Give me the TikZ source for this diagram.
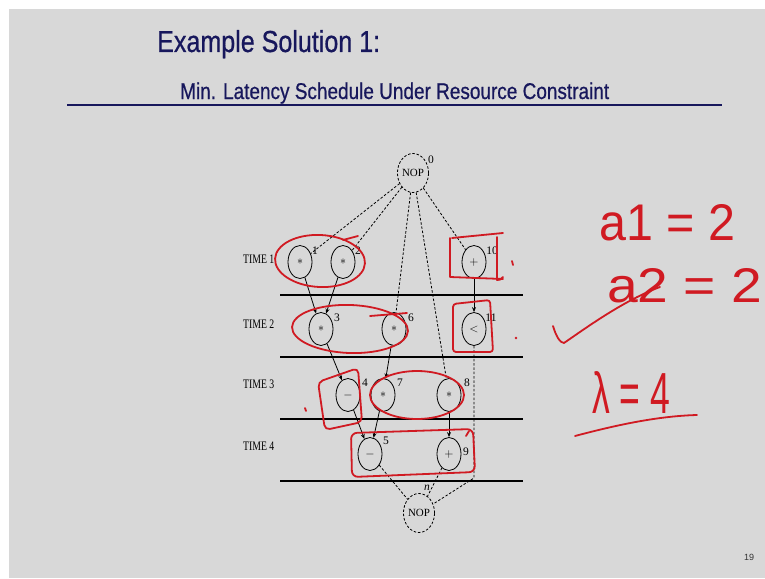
\documentclass[tikz,border=0pt]{standalone}
\usepackage{fontspec}
\setmainfont{Liberation Serif}
\newfontfamily\titlefont{Liberation Sans}
\newfontfamily\headfont[FakeBold=0.7]{Liberation Sans}
\usetikzlibrary{shapes.geometric,arrows.meta}
\definecolor{slidebg}{HTML}{D8D8D8}
\definecolor{navy}{HTML}{17175C}
\definecolor{pen}{HTML}{D01A22}
\begin{document}
\begin{tikzpicture}[x=1pt,y=-1pt,
  opnode/.style={ellipse,draw,line width=0.8pt,minimum width=24pt,minimum height=33pt,inner sep=0pt,font=\fontsize{12}{12}\selectfont},
  nopnode/.style={ellipse,draw,dashed,dash pattern=on 2.5pt off 1.8pt,line width=0.8pt,minimum width=29pt,minimum height=39pt,inner sep=0pt,font=\fontsize{11}{11}\selectfont},
  numlabel/.style={font=\fontsize{11.5}{11.5}\selectfont,inner sep=0pt},
  timelabel/.style={anchor=west,inner sep=0pt},
  dep/.style={line width=0.8pt,-{Stealth[length=5pt,width=4pt]}},
  ctl/.style={line width=0.8pt,dashed,dash pattern=on 2.5pt off 1.8pt},
  rule/.style={line width=1.2pt},
  ink/.style={pen,line width=1.8pt,line cap=round,line join=round},
  handtext/.style={pen,inner sep=0pt,font=\titlefont}
]
\useasboundingbox (0,0) rectangle (765,578);
\fill[white] (0,0) rectangle (765,578);
\fill[slidebg] (9,9) rectangle (765,578);

% title
\node[anchor=base west,inner sep=0pt,text=navy] (title) at (157,52)
  {\headfont\resizebox{223pt}{22pt}{Example Solution 1:}};
\node[anchor=base west,inner sep=0pt,text=navy] (subtitle) at (180,99)
  {\headfont\resizebox{429pt}{16.5pt}{Min. Latency Schedule Under Resource Constraint}};
\draw[navy,line width=2.2pt] (67,105) -- (722,105);
\node[inner sep=0pt,font=\titlefont\fontsize{9}{9}\selectfont,text=black!80] (pagenum) at (749,557) {19};

% time rules
\foreach \yy in {295,357,419,481} \draw[rule] (280,\yy) -- (523,\yy);

% time labels
\node[timelabel] (t1) at (243,259) {\scalebox{0.75}[1]{\fontsize{13}{13}\selectfont TIME 1}};
\node[timelabel] (t2) at (243,324) {\scalebox{0.75}[1]{\fontsize{13}{13}\selectfont TIME 2}};
\node[timelabel] (t3) at (243,384) {\scalebox{0.75}[1]{\fontsize{13}{13}\selectfont TIME 3}};
\node[timelabel] (t4) at (243,446) {\scalebox{0.75}[1]{\fontsize{13}{13}\selectfont TIME 4}};

% nodes
\node[nopnode] (n0) at (413,173) {NOP};
\node[numlabel] (l0) at (431,160) {0};
\node[opnode] (n1) at (300,262) {$\ast$};
\node[numlabel] (l1) at (315,251) {1};
\node[opnode] (n2) at (343,262) {$\ast$};
\node[numlabel] (l2) at (358,251) {2};
\node[opnode] (n10) at (474,262) {$+$};
\node[numlabel] (l10) at (492,251) {10};
\node[opnode] (n3) at (321,329) {$\ast$};
\node[numlabel] (l3) at (337,318) {3};
\node[opnode] (n6) at (394,329) {$\ast$};
\node[numlabel] (l6) at (411,318) {6};
\node[opnode] (n11) at (474,329) {$<$};
\node[numlabel] (l11) at (491,318) {11};
\node[opnode] (n4) at (348,395) {$-$};
\node[numlabel] (l4) at (365,383) {4};
\node[opnode] (n7) at (383,395) {$\ast$};
\node[numlabel] (l7) at (400,383) {7};
\node[opnode] (n8) at (449,395) {$\ast$};
\node[numlabel] (l8) at (467,383) {8};
\node[opnode] (n5) at (370,454) {$-$};
\node[numlabel] (l5) at (386,441) {5};
\node[opnode] (n9) at (449,454) {$+$};
\node[numlabel] (l9) at (466,452) {9};
\node[nopnode] (nn) at (419,513) {NOP};
\node[numlabel] (ln) at (427,488) {\itshape n};
\coordinate (bend) at (474,478);

% control edges
\draw[ctl] (n0) -- (n1);
\draw[ctl] (n0) -- (n2);
\draw[ctl] (n0) -- (n6);
\draw[ctl] (n0) -- (n8);
\draw[ctl] (n0) -- (n10);
\draw[ctl] (n5) -- (nn);
\draw[ctl] (n9) -- (nn);
\draw[ctl] (n11) -- (bend) -- (nn);

% data edges
\draw[dep] (n1) -- (n3);
\draw[dep] (n2) -- (n3);
\draw[dep] (n10) -- (n11);
\draw[dep] (n3) -- (n4);
\draw[dep] (n6) -- (n7);
\draw[dep] (n4) -- (n5);
\draw[dep] (n7) -- (n5);
\draw[dep] (n8) -- (n9);

% red annotations
\draw[ink,rotate around={-3:(320,261)}] (320,261) ellipse [x radius=45,y radius=26];
\draw[ink] (343,240) -- (358,236);
\draw[ink] (452,238) -- (503,233) (497,237) -- (497,280) .. controls (500,280) .. (503,277)
  (450,238) -- (450,277) -- (503,279);
\draw[ink] (512,261) -- (513,265);
\draw[ink,rotate around={-2:(350,329)}] (350,329) ellipse [x radius=58,y radius=24];
\draw[ink] (370,316) -- (407,313);
\draw[ink,rounded corners=3pt] (453,304) -- (490,300) -- (493,352) -- (453,352) -- cycle;
\fill[pen] (516,338) circle (1.3);
\draw[ink,rounded corners=5pt] (318,382) -- (358,368) -- (362,422) -- (325,430) -- cycle;
\draw[ink] (305,408) -- (306,411);
\draw[ink] (417,395) ellipse [x radius=47,y radius=24];
\draw[ink,rounded corners=6pt] (351,433) -- (473,429) -- (475,472) -- (352,477) -- cycle;
\draw[ink] (466,436) -- (469,431);

% handwriting
\node[handtext,anchor=base west] (h1) at (599,240) {\resizebox{136pt}{36pt}{a1 = 2}};
\node[handtext,anchor=base west] (h2) at (607,302) {\resizebox{155pt}{34pt}{a2 = 2}};
\node[handtext,anchor=base west] (h3) at (592,413) {\resizebox{78pt}{42pt}{λ = 4}};
\draw[ink] (553,326) .. controls (556,336) and (560,343) .. (564,343) .. controls (590,325) and (625,300) .. (660,287);
\draw[ink] (575,436) .. controls (620,424) and (660,416) .. (697,415);
\end{tikzpicture}
\end{document}
